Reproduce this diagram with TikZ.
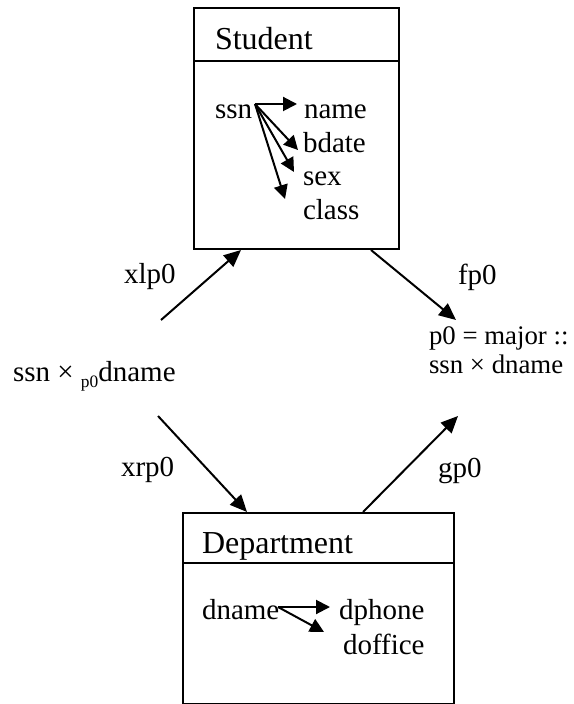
\documentclass[tikz,border=0pt]{standalone}
\usepackage{fontspec}
\setmainfont{Liberation Serif}
\usetikzlibrary{arrows.meta}
\begin{document}
\begin{tikzpicture}[x=0.5pt,y=-0.5pt,line width=1pt,
  lbl/.style={anchor=base west,inner sep=0pt,font=\fontsize{14.5}{17}\selectfont},
  small/.style={anchor=base west,inner sep=0pt,font=\fontsize{13.4}{16}\selectfont},
  head/.style={anchor=base west,inner sep=0pt,font=\fontsize{16}{19}\selectfont},
  arr/.style={-{Triangle[length=8.5pt,width=7.5pt]}},
  fd/.style={-{Triangle[length=7pt,width=7pt]}},
  box/.style={draw,anchor=north west,inner sep=0pt}]
\useasboundingbox (0,0) rectangle (573,704);

% Student entity
\node[box,minimum width=102.5pt,minimum height=120.5pt] (student) at (193,7) {};
\draw ([yshift=-27pt]student.north west) -- ([yshift=-27pt]student.north east);
\node[head] (stitle) at (214,50) {Student};
\node[lbl] (ssn) at (214,119) {ssn};
\node[lbl] (name) at (303,119) {name};
\node[lbl] (bdate) at (302,153) {bdate};
\node[lbl] (sex) at (302,186) {sex};
\node[lbl] (class) at (302,220) {class};
\coordinate (sfan) at (255,104);
\coordinate (tname) at (297,104);
\coordinate (tbdate) at (298,150);
\coordinate (tsex) at (294,172);
\coordinate (tclass) at (285,199);
\draw[fd] (sfan) -- (tname);
\draw[fd] (sfan) -- (tbdate);
\draw[fd] (sfan) -- (tsex);
\draw[fd] (sfan) -- (tclass);

% Department entity
\node[box,minimum width=135.5pt,minimum height=95.5pt] (dept) at (182,512) {};
\draw ([yshift=-25.5pt]dept.north west) -- ([yshift=-25.5pt]dept.north east);
\node[head] (dtitle) at (201,553) {Department};
\node[lbl] (dname) at (201,619) {dname};
\node[lbl] (dphone) at (338,619) {dphone};
\node[lbl] (doffice) at (342,654) {doffice};
\coordinate (dfan) at (278,607);
\coordinate (tdphone) at (330,607);
\coordinate (tdoffice) at (324,632);
\draw[fd] (dfan) -- (tdphone);
\draw[fd] (dfan) -- (tdoffice);

% Join object and relationship object
\node[lbl] (join) at (12,381) {ssn × \raisebox{-3pt}{\fontsize{8.7}{9}\selectfont p0}dname};
\node[small] (rel1) at (428,345) {p0 = major ::};
\node[small] (rel2) at (428,373) {ssn × dname};

% Morphisms
\coordinate (xlfrom) at (161,320);
\coordinate (xrfrom) at (158,416);
\coordinate (fto) at (456,320);
\coordinate (gto) at (458,416);
\draw[arr] (xlfrom) -- ([xshift=24pt]student.south west);
\draw[arr] ([xshift=-14.5pt]student.south east) -- (fto);
\draw[arr] (xrfrom) -- ([xshift=32.5pt]dept.north west);
\draw[arr] ([xshift=90.5pt]dept.north west) -- (gto);

\node[lbl] (xlp) at (123,284) {xlp0};
\node[lbl] (fp) at (457,285) {fp0};
\node[lbl] (xrp) at (120,476) {xrp0};
\node[lbl] (gp) at (437,477) {gp0};
\end{tikzpicture}
\end{document}
